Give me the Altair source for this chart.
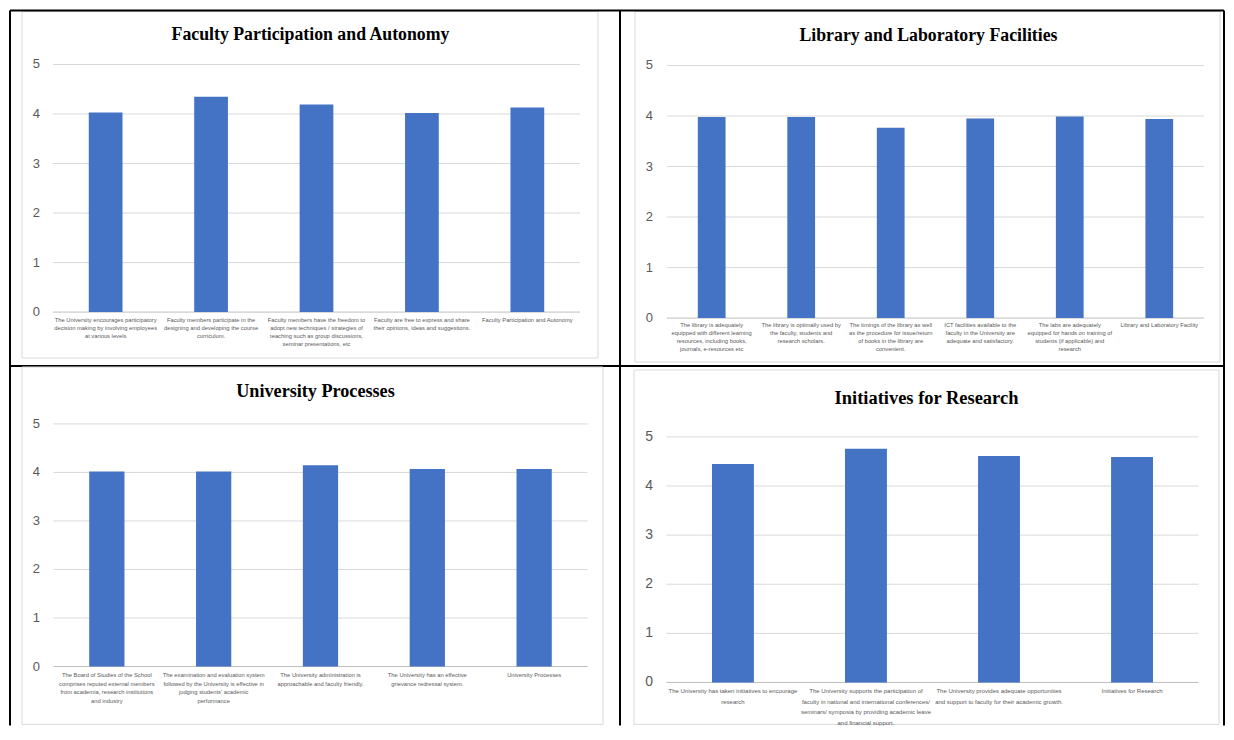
import altair as alt
import pandas as pd

# ---------------- data ----------------
p1_title = "Faculty Participation and Autonomy"
p1_labels = [
    "The University encourages participatory\ndecision making by involving employees\nat various levels",
    "Faculty members participate in the\ndesigning and developing the course\ncurriculum.",
    "Faculty members have the freedom to\nadopt new techniques / strategies of\nteaching such as group discussions,\nseminar presentations, etc",
    "Faculty are free to express and share\ntheir opinions, ideas and suggestions.",
    "Faculty Participation and Autonomy",
]
p1_values = [4.03, 4.35, 4.19, 4.02, 4.13]

p2_title = "Library and Laboratory Facilities"
p2_labels = [
    "The library is adequately\nequipped with different learning\nresources, including books,\njournals, e-resources etc",
    "The library is optimally used by\nthe faculty, students and\nresearch scholars.",
    "The timings of the library as well\nas the procedure for issue/return\nof books in the library are\nconvenient.",
    "ICT facilities available to the\nfaculty in the University are\nadequate and satisfactory.",
    "The labs are adequately\nequipped for hands on training of\nstudents (if applicable) and\nresearch",
    "Library and Laboratory Facility",
]
p2_values = [3.98, 3.98, 3.77, 3.95, 3.99, 3.94]

p3_title = "University Processes"
p3_labels = [
    "The Board of Studies of the School\ncomprises reputed external members\nfrom academia, research institutions\nand industry",
    "The examination  and evaluation system\nfollowed  by the University is effective  in\njudging students'  academic\nperformance",
    "The University administration is\napproachable and faculty friendly.",
    "The University has an effective\ngrievance redressal system.",
    "University Processes",
]
p3_values = [4.02, 4.02, 4.15, 4.07, 4.07]

p4_title = "Initiatives for Research"
p4_labels = [
    "The University has taken initiatives to encourage\nresearch",
    "The University supports the participation of\nfaculty in national and international conferences/\nseminars/ symposia by providing academic leave\nand financial support.",
    "The University provides adequate opportunities\nand support to faculty for their academic growth.",
    "Initiatives for Research",
]
p4_values = [4.45, 4.76, 4.61, 4.59]

tick_values = [0, 1, 2, 3, 4, 5]

BAR = "#4472C4"
GRID = "#d9d9d9"
TXT = "#595959"


def edge(x1, y1, x2, y2):
    one = pd.DataFrame({"a": [0]})
    return alt.Chart(one).mark_rule(color="black", strokeWidth=2).encode(
        x=alt.value(x1), x2=alt.value(x2), y=alt.value(y1), y2=alt.value(y2)
    )


def panel(title, labels, values, W, H, frame, title_pos, title_size,
          yrange, xrange, pad_inner, tick_x, tick_size, lab_top, lab_lh,
          lab_size, edges):
    cats = [f"c{i}" for i in range(len(values))]
    df = pd.DataFrame({"cat": cats, "val": values, "label": labels})
    ticks = pd.DataFrame({"v": tick_values})
    one = pd.DataFrame({"a": [0]})

    xs = alt.Scale(domain=cats, range=xrange, paddingInner=pad_inner,
                   paddingOuter=pad_inner / 2)
    ys = alt.Scale(domain=[0, 5], range=yrange, nice=False, zero=True)

    box = alt.Chart(one).mark_rect(fill="white", stroke=GRID, strokeWidth=1).encode(
        x=alt.value(frame[0]), x2=alt.value(frame[1]),
        y=alt.value(frame[2]), y2=alt.value(frame[3]))

    grid = alt.Chart(ticks).mark_rule(strokeWidth=1).encode(
        y=alt.Y("v:Q", scale=ys, axis=None),
        x=alt.value(xrange[0]), x2=alt.value(xrange[1]),
        color=alt.condition("datum.v == 0", alt.value("#bfbfbf"), alt.value(GRID)))

    tick_text = alt.Chart(ticks).mark_text(
        align="right", baseline="middle", fontSize=tick_size, color=TXT,
        font="Liberation Sans").encode(
        y=alt.Y("v:Q", scale=ys, axis=None),
        x=alt.value(tick_x), text="v:Q")

    bars = alt.Chart(df).mark_bar(color=BAR).encode(
        x=alt.X("cat:N", scale=xs, axis=None, sort=cats),
        y=alt.Y("val:Q", scale=ys, axis=None))

    lab = alt.Chart(df).mark_text(
        lineBreak="\n", baseline="top", align="center", fontSize=lab_size,
        lineHeight=lab_lh, color=TXT, font="Liberation Sans").encode(
        x=alt.X("cat:N", scale=xs, axis=None, sort=cats),
        y=alt.value(lab_top), text="label:N")

    ttl = alt.Chart(one).mark_text(
        text=title, fontSize=title_size, fontWeight="bold", color="black",
        font="Liberation Serif", align="center", baseline="middle").encode(
        x=alt.value(title_pos[0]), y=alt.value(title_pos[1]))

    layers = [box, grid, tick_text, bars, lab, ttl] + [edge(*e) for e in edges]
    return alt.layer(*layers).properties(width=W, height=H)


p1 = panel(p1_title, p1_labels, p1_values, 611, 358,
           frame=[12, 589, 3, 350], title_pos=[301, 26], title_size=17.8,
           yrange=[304, 56], xrange=[43, 571], pad_inner=0.68,
           tick_x=30, tick_size=13, lab_top=309, lab_lh=8, lab_size=5.8,
           edges=[(0, 2, 0, 358), (0, 2, 611, 2), (611, 2, 611, 358), (0, 358, 611, 358)])

p2 = panel(p2_title, p2_labels, p2_values, 605, 358,
           frame=[15, 601, 3, 354], title_pos=[309, 27], title_size=17.8,
           yrange=[310, 57], xrange=[47, 585], pad_inner=0.69,
           tick_x=33, tick_size=13, lab_top=314, lab_lh=8, lab_size=5.8,
           edges=[(0, 2, 605, 2), (605, 2, 605, 358), (0, 358, 605, 358)])

p3 = panel(p3_title, p3_labels, p3_values, 611, 360,
           frame=[12, 594, 1, 359], title_pos=[306, 26], title_size=18.2,
           yrange=[301, 58], xrange=[43.5, 578.5], pad_inner=0.67,
           tick_x=30, tick_size=13, lab_top=307, lab_lh=8.5, lab_size=5.8,
           edges=[(0, 0, 0, 360), (611, 0, 611, 360)])

p4 = panel(p4_title, p4_labels, p4_values, 605, 360,
           frame=[14, 600, 4, 359], title_pos=[307, 32], title_size=18.5,
           yrange=[317, 71], xrange=[46.5, 579.5], pad_inner=0.685,
           tick_x=33, tick_size=14, lab_top=323, lab_lh=10.5, lab_size=6,
           edges=[(605, 0, 605, 360)])

chart = alt.concat(p1, p2, p3, p4, columns=2, spacing=0, bounds="flush").properties(
    padding={"left": 1, "top": 0, "right": 1, "bottom": 0},
    background="white",
).configure_view(stroke=None)

chart.save("out.html", embed_options={"renderer": "svg", "actions": False})
